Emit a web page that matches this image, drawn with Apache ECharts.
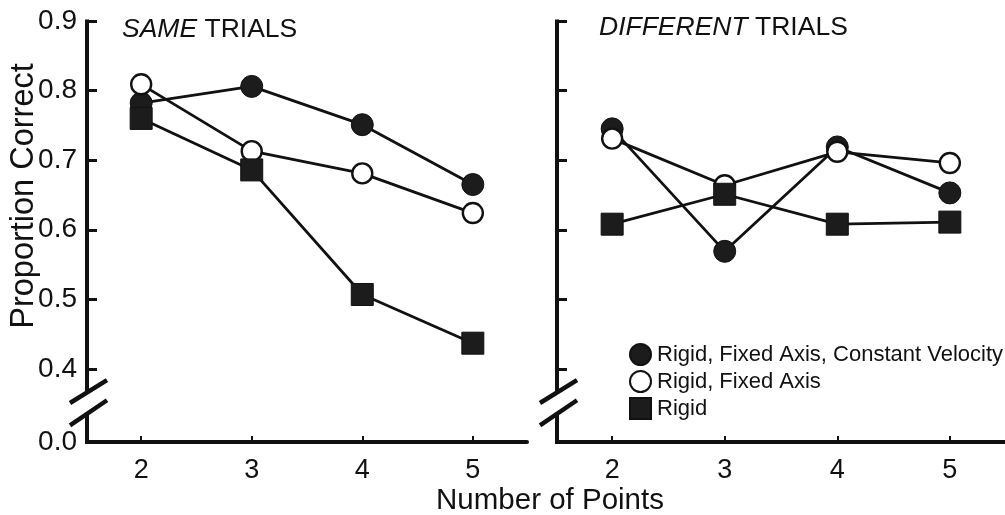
<!DOCTYPE html>
<html>
<head>
<meta charset="utf-8">
<script src="https://cdn.jsdelivr.net/npm/echarts@6/dist/echarts.min.js"></script>
<style>
html,body{margin:0;padding:0;background:#fff;}
#main{width:1005px;height:515px;}
</style>
</head>
<body>
<div id="main"></div>
<script>
// ---- data ----
const numPoints = [2, 3, 4, 5];
const seriesNames = ['Rigid, Fixed Axis, Constant Velocity', 'Rigid, Fixed Axis', 'Rigid'];
const sameFilled = [0.782, 0.806, 0.751, 0.665];
const sameOpen   = [0.809, 0.713, 0.681, 0.624];
const sameSquare = [0.760, 0.686, 0.507, 0.437];
const diffFilled = [0.745, 0.569, 0.719, 0.653];
const diffOpen   = [0.731, 0.664, 0.712, 0.696];
const diffSquare = [0.608, 0.651, 0.608, 0.611];
const yTickValues = [0.4, 0.5, 0.6, 0.7, 0.8, 0.9];
const yLabelValues = [0.295, 0.4, 0.5, 0.6, 0.7, 0.8, 0.9];
const panelTitles = ['{i|SAME} TRIALS', '{i|DIFFERENT} TRIALS'];

const FONT = '"Liberation Sans", Arial, Helvetica, sans-serif';
const INK = '#111';
const Y_MIN = 0.295, Y_MAX = 0.9, X_MIN = 1.51, X_MAX = 5.49;
const BREAK_TOP = 0.367, BREAK_BOTTOM = 0.336;

function pairs(vals) { return numPoints.map((x, i) => [x, vals[i]]); }

function xAxisCfg(g) {
  return {
    gridIndex: g, type: 'value', min: X_MIN, max: X_MAX,
    axisLine: { show: true, lineStyle: { color: INK, width: 4 } },
    axisTick: { show: true, inside: true, length: 6, lineStyle: { color: INK, width: 2 }, customValues: numPoints },
    axisLabel: { customValues: numPoints, fontSize: 27, color: INK, fontFamily: FONT, margin: 15 },
    splitLine: { show: false }
  };
}
function yAxisCfg(g, labels) {
  return {
    gridIndex: g, type: 'value', min: Y_MIN, max: Y_MAX,
    axisLine: { show: false },
    axisTick: { show: true, inside: true, length: 10, lineStyle: { color: INK, width: 3 }, customValues: yTickValues },
    axisLabel: {
      show: labels, customValues: yLabelValues, fontSize: 28, color: INK, fontFamily: FONT, margin: 10,
      formatter: v => (v < 0.35 ? '0.0' : v.toFixed(1))
    },
    splitLine: { show: false }
  };
}
function mkSeries(name, vals, g, kind) {
  const s = {
    type: 'line', name: name, xAxisIndex: g, yAxisIndex: g, data: pairs(vals),
    lineStyle: { color: INK, width: 2.8 }, emphasis: { disabled: true }
  };
  if (kind === 'filled') {
    s.symbol = 'circle'; s.symbolSize = 22;
    s.itemStyle = { color: '#1c1c1c', borderColor: INK, borderWidth: 1 };
  } else if (kind === 'open') {
    s.symbol = 'circle'; s.symbolSize = 20;
    s.itemStyle = { color: '#fff', borderColor: INK, borderWidth: 2.4 };
  } else {
    s.symbol = 'rect'; s.symbolSize = 22;
    s.itemStyle = { color: '#1c1c1c', borderColor: INK, borderWidth: 1 };
  }
  return s;
}

const chart = echarts.init(document.getElementById('main'), null, { renderer: 'canvas' });
const titleStyle = {
  fontSize: 26.5, fontWeight: 'normal', color: INK, fontFamily: FONT,
  rich: { i: { fontStyle: 'italic', fontSize: 26.5, color: INK, fontFamily: FONT } }
};
chart.setOption({
  animation: false,
  backgroundColor: '#fff',
  title: [
    { text: panelTitles[0], left: 122, top: 16, padding: 0, textStyle: titleStyle },
    { text: panelTitles[1], left: 599, top: 14, padding: 0, textStyle: titleStyle }
  ],
  legend: {
    orient: 'vertical', left: 629, top: 343, padding: 0,
    itemWidth: 21, itemHeight: 21, itemGap: 4,
    textStyle: { fontSize: 22, color: INK, fontFamily: FONT, padding: [0, 0, 0, 1] },
    data: [
      { name: seriesNames[0], icon: 'circle' },
      { name: seriesNames[1], icon: 'circle' },
      { name: seriesNames[2], icon: 'rect' }
    ],
    selectedMode: false
  },
  grid: [
    { left: 87, top: 21, width: 440, height: 421 },
    { left: 557, top: 21, width: 450, height: 421 }
  ],
  xAxis: [xAxisCfg(0), xAxisCfg(1)],
  yAxis: [yAxisCfg(0, true), yAxisCfg(1, false)],
  series: [
    mkSeries(seriesNames[0], sameFilled, 0, 'filled'),
    mkSeries(seriesNames[1], sameOpen, 0, 'open'),
    mkSeries(seriesNames[2], sameSquare, 0, 'square'),
    mkSeries(seriesNames[0], diffFilled, 1, 'filled'),
    mkSeries(seriesNames[1], diffOpen, 1, 'open'),
    mkSeries(seriesNames[2], diffSquare, 1, 'square')
  ]
});

// broken y axes drawn through the library's own scales
function axisGraphics(g) {
  const p = v => chart.convertToPixel({ gridIndex: g }, [X_MIN, v]);
  const top = p(Y_MAX), bt = p(BREAK_TOP), bb = p(BREAK_BOTTOM), bot = p(Y_MIN);
  const x = top[0];
  const ls = { stroke: INK, lineWidth: 4 };
  const s1a = p(0.351), s1b = p(0.384), s2a = p(0.319), s2b = p(0.355);
  return [
    { type: 'line', shape: { x1: x, y1: top[1] - 1.5, x2: x, y2: bt[1] }, style: ls },
    { type: 'line', shape: { x1: x, y1: bb[1], x2: x, y2: bot[1] + 2 }, style: ls },
    { type: 'line', shape: { x1: x - 17, y1: s1a[1], x2: x + 20, y2: s1b[1] }, style: { stroke: INK, lineWidth: 4.5 } },
    { type: 'line', shape: { x1: x - 17, y1: s2a[1], x2: x + 20, y2: s2b[1] }, style: { stroke: INK, lineWidth: 4.5 } }
  ];
}
chart.setOption({
  graphic: [].concat(axisGraphics(0), axisGraphics(1), [
    { type: 'text', x: 24, y: 196, rotation: Math.PI / 2,
      style: { text: 'Proportion Correct', fontSize: 32.5, fill: INK, fontFamily: FONT, align: 'center', verticalAlign: 'middle' } },
    { type: 'text', x: 550, y: 501,
      style: { text: 'Number of Points', fontSize: 29.5, fill: INK, fontFamily: FONT, align: 'center', verticalAlign: 'middle' } }
  ])
});
</script>
</body>
</html>
